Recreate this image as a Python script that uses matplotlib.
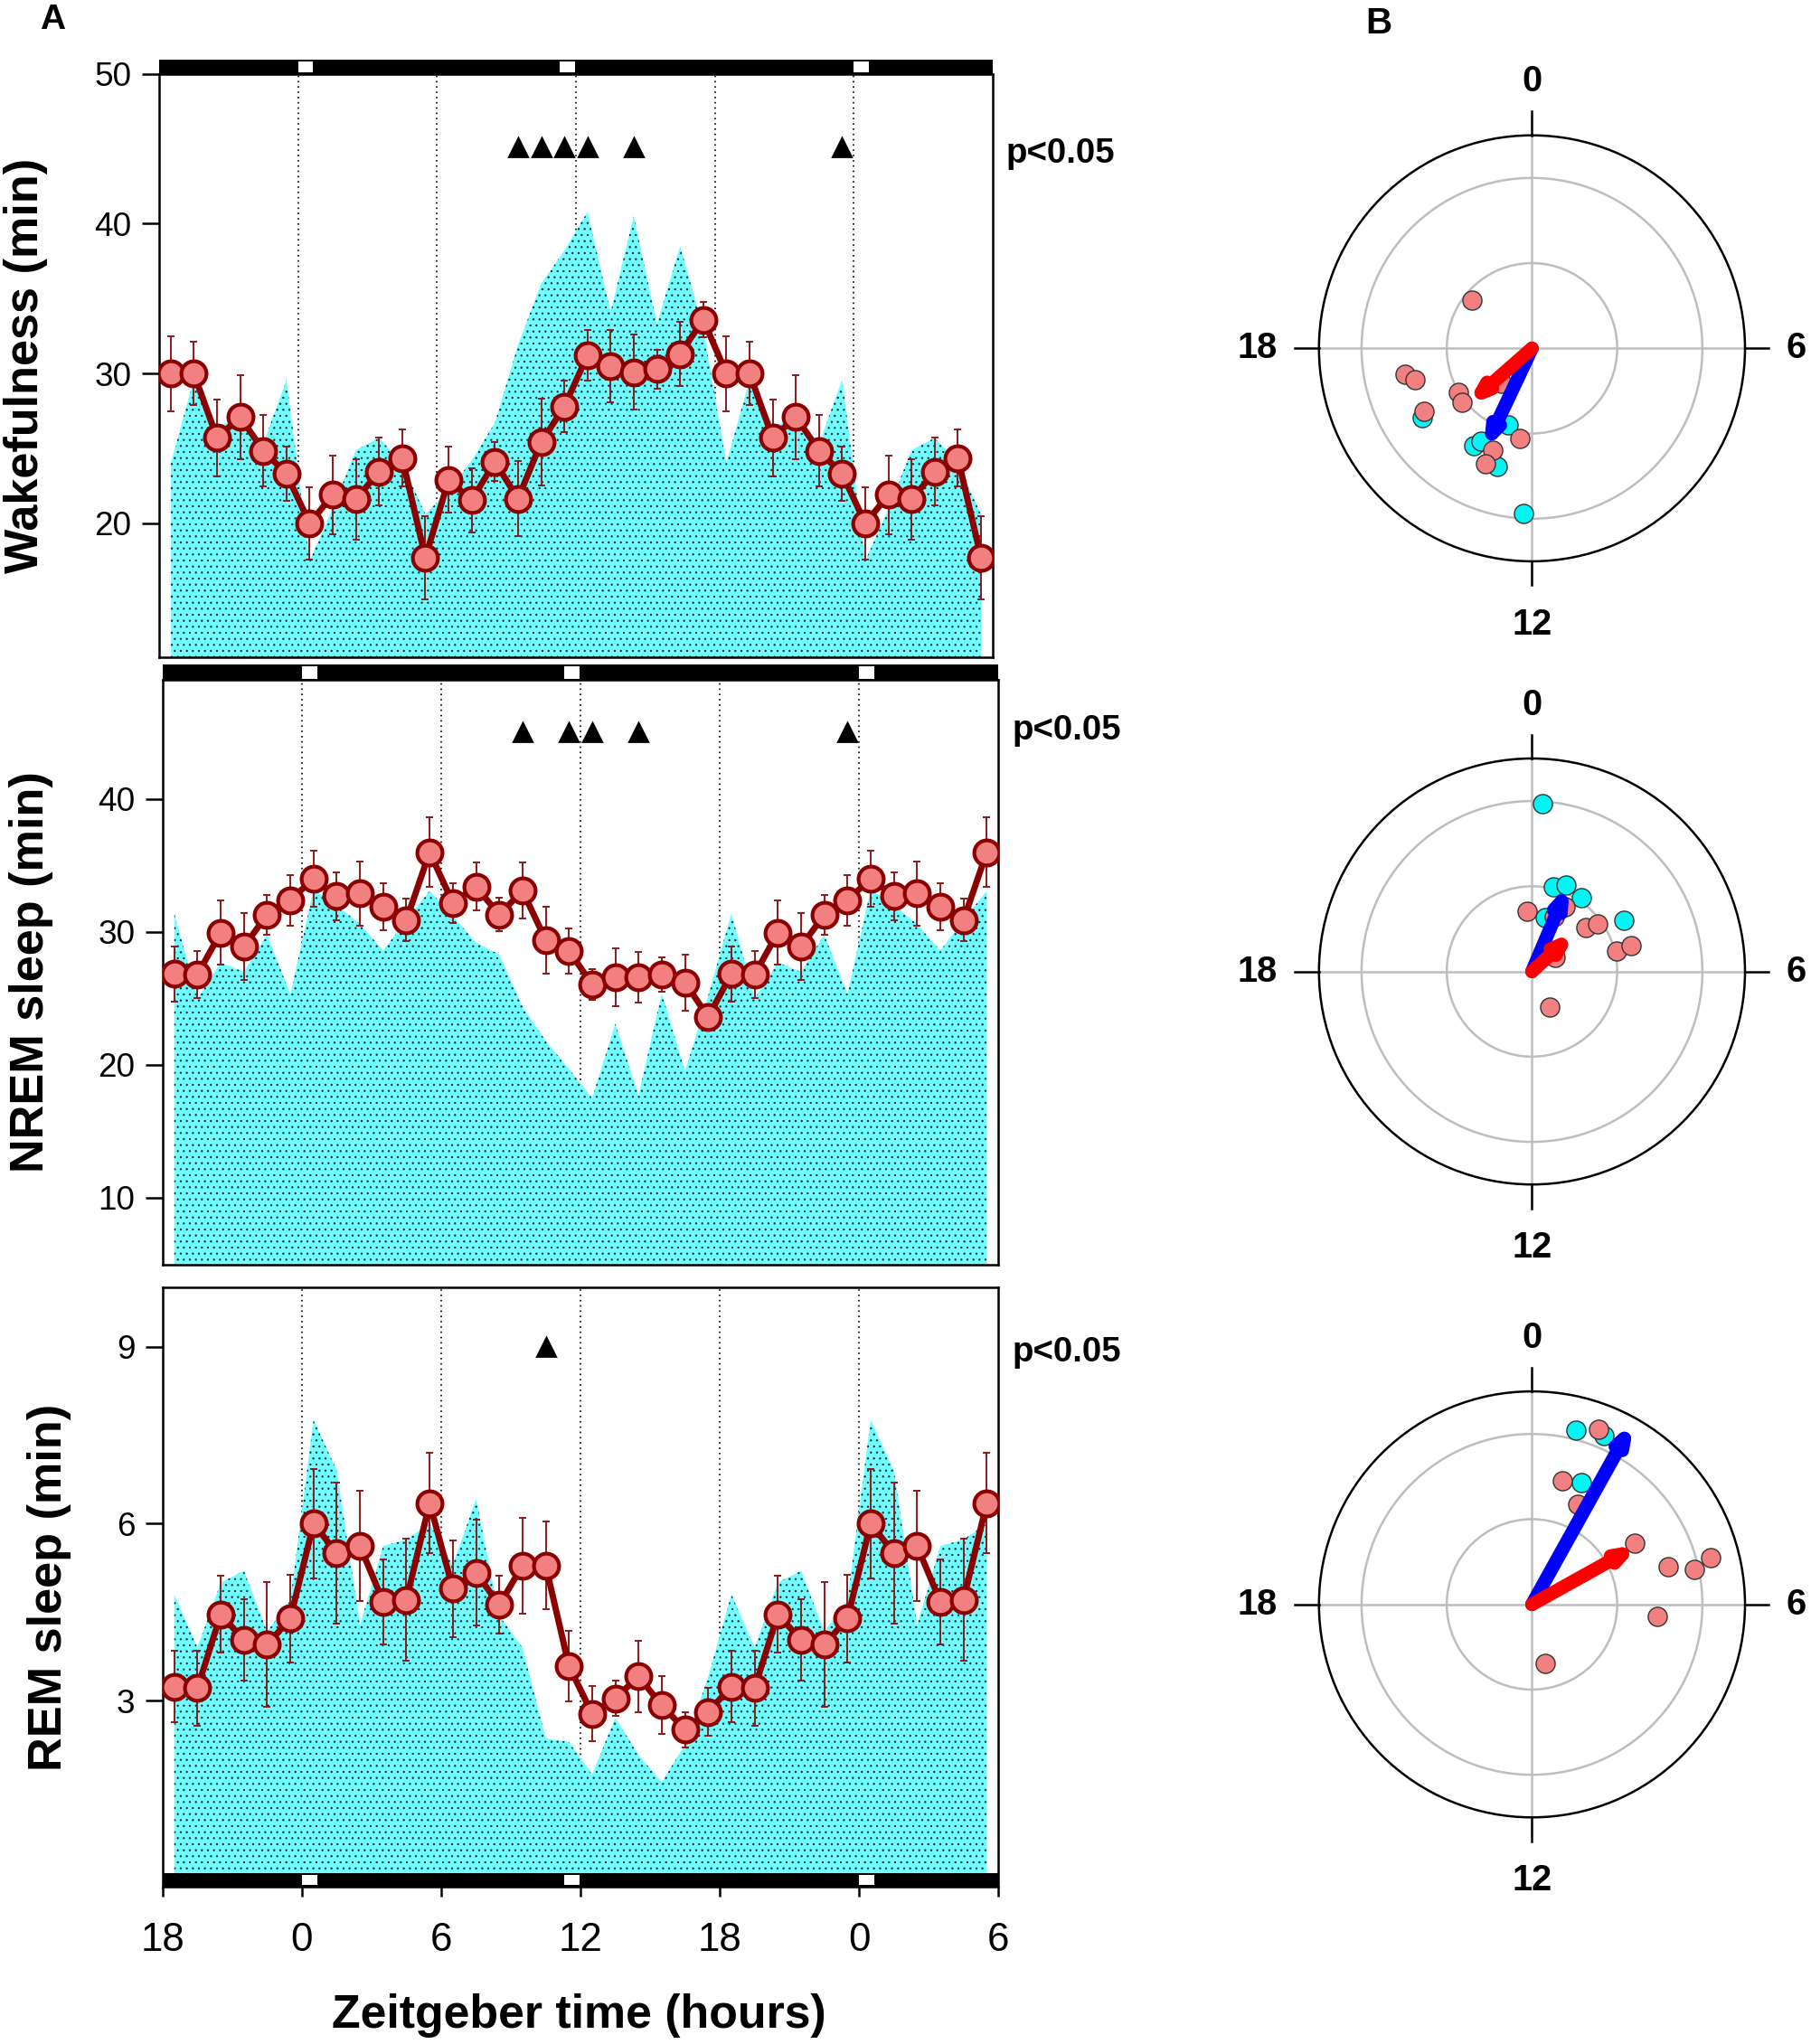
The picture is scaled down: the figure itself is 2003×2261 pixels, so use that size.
import numpy as np
import matplotlib
matplotlib.use("Agg")
import matplotlib.pyplot as plt
from matplotlib.patches import Rectangle, FancyArrowPatch
from matplotlib.transforms import blended_transform_factory

plt.rcParams["font.family"] = ["Liberation Sans", "DejaVu Sans"]
plt.rcParams["hatch.linewidth"] = 0.35

W, H = 2003, 2261

# --- hourly bins ZT 0.5 ... 23.5 (plotted double: ZT 18 -> ZT 6 of day 3) ---
wake_mean = [20.0, 21.9, 21.6, 23.45, 24.35, 17.7, 22.9, 21.55, 24.1, 21.65, 25.4, 27.8,
             31.2, 30.5, 30.1, 30.3, 31.3, 33.6, 30.0, 30.0, 25.7, 27.1, 24.85, 23.3]
wake_sem = [2.4, 2.6, 2.7, 2.25, 1.9, 2.8, 2.2, 2.15, 1.3, 2.5, 2.9, 1.7,
            1.7, 2.4, 2.5, 1.3, 2.15, 1.2, 2.5, 2.1, 2.55, 2.8, 2.4, 1.8]
wake_ctrl = [17.5, 21.0, 24.9, 25.7, 24.0, 20.6, 22.2, 24.2, 26.7, 31.9, 36.0, 38.2,
             40.8, 34.1, 40.5, 33.3, 38.5, 33.0, 24.0, 29.6, 26.5, 27.0, 25.3, 29.6]
wake_sig = [9.5, 10.5, 11.5, 12.5, 14.5, 23.5]

nrem_mean = [34.0, 32.7, 32.9, 31.9, 30.9, 36.0, 32.2, 33.4, 31.3, 33.1, 29.4, 28.6,
             26.05, 26.6, 26.6, 26.8, 26.2, 23.6, 26.84, 26.8, 29.95, 28.9, 31.3, 32.4]
nrem_sem = [2.1, 1.8, 2.4, 1.75, 1.6, 2.6, 1.5, 1.8, 1.25, 2.1, 2.5, 1.7,
            1.15, 2.2, 1.9, 1.3, 2.1, 0.95, 2.1, 1.8, 2.4, 2.5, 1.5, 1.9]
nrem_ctrl = [33.2, 32.0, 30.6, 28.6, 30.9, 33.1, 31.2, 29.2, 28.3, 24.4, 21.8, 19.7,
             17.5, 23.1, 17.7, 25.4, 19.5, 25.2, 31.4, 25.0, 27.7, 27.0, 29.8, 25.3]
nrem_sig = [9.5, 11.5, 12.5, 14.5, 23.5]

rem_mean = [6.0, 5.5, 5.62, 4.68, 4.71, 6.35, 4.9, 5.17, 4.62, 5.29, 5.29, 3.59,
            2.78, 3.04, 3.41, 2.92, 2.51, 2.81, 3.24, 3.21, 4.46, 4.03, 3.95, 4.39]
rem_sem = [0.93, 1.2, 0.93, 0.72, 1.03, 0.85, 0.82, 0.89, 0.49, 0.81, 0.74, 0.6,
           0.47, 0.3, 0.61, 0.49, 0.3, 0.4, 0.6, 0.63, 0.65, 0.69, 1.06, 0.74]
rem_ctrl = [7.76, 6.9, 4.28, 5.62, 5.73, 6.0, 5.3, 6.42, 4.44, 3.9, 2.36, 2.3,
            1.75, 2.71, 2.08, 1.62, 2.25, 3.4, 4.8, 3.9, 5.0, 5.2, 4.17, 4.7]
rem_sig = [10.5]

# light marks in the dark bar (hours after ZT 18 of the first plotted day)
light_marks = [(6.0, 6.65), (17.3, 17.95), (30.0, 30.65)]
xtick_labels = ["18", "0", "6", "12", "18", "0", "6"]

# --- phase (ZT h) and length of individual vectors and group means ---
wake_red_zt = [20.6, 17.24, 17.0, 15.97, 15.95, 15.5, 14.7, 12.53, 13.4, 13.45]
wake_red_r = [0.452, 0.760, 0.709, 0.734, 0.503, 0.517, 0.27, 0.533, 0.638, 0.732]
wake_cyan_zt = [15.84, 13.16, 14.06, 13.9, 13.1, 12.19]
wake_cyan_r = [0.763, 0.471, 0.666, 0.623, 0.722, 0.973]
wake_vec = {"red": (15.25, 0.515), "blue": (13.68, 0.672)}

nrem_red_zt = [23.7, 1.48, 3.41, 3.59, 5.1, 5.03, 3.88, 10.26, 1.78]
nrem_red_r = [0.355, 0.349, 0.407, 0.477, 0.512, 0.603, 0.159, 0.232, 0.428]
nrem_cyan_zt = [0.24, 0.94, 1.43, 2.23, 0.94, 4.06]
nrem_cyan_r = [0.986, 0.51, 0.544, 0.522, 0.325, 0.614]
nrem_vec = {"red": (3.17, 0.353), "blue": (1.53, 0.566)}

rem_red_zt = [1.39, 0.93, 1.63, 4.96, 5.18, 5.03, 6.37, 11.14, 3.94]
rem_red_r = [1.10, 0.747, 0.644, 0.828, 0.974, 1.082, 0.74, 0.356, 0.70]
rem_cyan_zt = [0.94, 1.53, 1.46]
rem_cyan_r = [1.055, 1.077, 0.773]
rem_vec = {"red": (4.06, 0.726), "blue": (1.94, 1.233)}

SALMON = "#F28080"
DARKRED = "#8B0000"
CYAN_FILL = "#70FFFF"
DOTS = "#0B2540"


def px_rect(l, t, r, b):
    return [l / W, 1 - b / H, (r - l) / W, (b - t) / H]


def zt_rad(zt):
    return np.asarray(zt) / 24.0 * 2 * np.pi


def line_panel(ax, mean, sem, ctrl, sig, ylim, yticks, sig_y, bar_y, bar_h, bottom):
    x = np.arange(0.5, 36, 1.0)
    idx = ((x + 18) % 24 - 0.5).astype(int)
    m = np.asarray(mean)[idx]
    e = np.asarray(sem)[idx]
    c = np.asarray(ctrl)[idx]

    for xv in (6, 12, 18, 24, 30):
        ax.axvline(xv, color="k", lw=0.6, ls=(0, (1, 2.5)), zorder=0.5)
    ax.fill_between(x, ylim[0], c, facecolor=CYAN_FILL, edgecolor=DOTS,
                    hatch=".....", linewidth=0, zorder=1)
    ax.errorbar(x, m, yerr=e, fmt="none", ecolor="#8B1A1A", elinewidth=0.7,
                capsize=1.4, capthick=0.7, zorder=2)
    ax.plot(x, m, "-o", color=DARKRED, lw=2.5, ms=10, mfc=SALMON, mec=DARKRED,
            mew=1.5, zorder=3)
    ax.plot(np.asarray(sig) + 6, [sig_y] * len(sig), "^", color="k", ms=7,
            clip_on=False, zorder=4)

    trans = blended_transform_factory(ax.transData, ax.transAxes)
    ax.add_patch(Rectangle((0, bar_y), 36, bar_h, transform=trans, facecolor="k",
                           edgecolor="none", clip_on=False, zorder=5))
    for a, b in light_marks:
        ax.add_patch(Rectangle((a, bar_y + 0.1 * bar_h), b - a, 0.8 * bar_h,
                               transform=trans, facecolor="white", edgecolor="none",
                               clip_on=False, zorder=6))

    ax.set_xlim(0, 36)
    ax.set_ylim(*ylim)
    ax.set_yticks(yticks)
    ax.tick_params(axis="y", direction="out", length=7, width=0.9,
                   labelsize=13.3, pad=4)
    if bottom:
        ax.set_xticks(np.arange(0, 37, 6))
        ax.set_xticklabels(xtick_labels)
        ax.tick_params(axis="x", direction="out", length=4, width=0.9,
                       labelsize=15.8, pad=10)
    else:
        ax.set_xticks([])
    for sp in ax.spines.values():
        sp.set_linewidth(0.9)


def polar_panel(pax, red_zt, red_r, cyan_zt, cyan_r, vec):
    pax.set_theta_zero_location("N")
    pax.set_theta_direction(-1)
    pax.set_ylim(0, 1.25)
    pax.set_yticks([0.5, 1.0])
    pax.set_yticklabels([])
    pax.set_xticks(zt_rad([0, 6, 12, 18]))
    pax.set_xticklabels([])
    pax.grid(True, color="#BEBEBE", lw=0.9)
    pax.spines["polar"].set_linewidth(0.9)

    for zt, rl, lab in zip([0, 6, 12, 18], [1.565, 1.55, 1.62, 1.61],
                           ["0", "6", "12", "18"]):
        th = zt_rad(zt)
        pax.plot([th, th], [1.25, 1.39], color="k", lw=0.9, clip_on=False)
        pax.text(th, rl, lab, ha="center", va="center", fontsize=14.3,
                 fontweight="bold")

    pax.plot(zt_rad(cyan_zt), cyan_r, "o", ls="none", ms=7.6, mfc="#00F5F5",
             mec="#333333", mew=0.5, clip_on=False, zorder=3)
    pax.plot(zt_rad(red_zt), red_r, "o", ls="none", ms=7.6, mfc=SALMON,
             mec="#333333", mew=0.5, clip_on=False, zorder=3)
    for key, col in (("blue", "#0000FF"), ("red", "#FF0000")):
        zt, rr = vec[key]
        th = float(zt_rad(zt))
        arr = FancyArrowPatch((th, 0), (th, rr), transform=pax.transData,
                              arrowstyle="-|>,head_length=4.5,head_width=1.6",
                              mutation_scale=1, lw=5.4, color=col,
                              shrinkA=0, shrinkB=0, capstyle="round",
                              joinstyle="round", zorder=4)
        pax.add_patch(arr)


fig = plt.figure(figsize=(W / 200, H / 200), dpi=200)

ax1 = fig.add_axes(px_rect(176.0, 81.7, 1097.9, 726.9))
line_panel(ax1, wake_mean, wake_sem, wake_ctrl, wake_sig, (11.07, 50),
           [20, 30, 40, 50], 45.1, 1.0, 0.0242, False)
ax2 = fig.add_axes(px_rect(179.9, 752.3, 1104.2, 1398.5))
line_panel(ax2, nrem_mean, nrem_sem, nrem_ctrl, nrem_sig, (5, 48.95),
           [10, 20, 30, 40], 45.0, 1.0, 0.026, False)
ax3 = fig.add_axes(px_rect(179.9, 1424.3, 1104.2, 2086.8))
line_panel(ax3, rem_mean, rem_sem, rem_ctrl, rem_sig, (-0.15, 10.0),
           [3, 6, 9], 9.0, 0.0, 0.0218, True)

fig.text(28.9 / W, 1 - 404.3 / H, "Wakefulness (min)", rotation=90,
         ha="center", va="center", fontsize=18.8, fontweight="bold")
fig.text(34.7 / W, 1 - 1075.4 / H, "NREM sleep (min)", rotation=90,
         ha="center", va="center", fontsize=18.8, fontweight="bold")
fig.text(54.9 / W, 1 - 1755.5 / H, "REM sleep (min)", rotation=90,
         ha="center", va="center", fontsize=18.8, fontweight="bold")
fig.text(640.2 / W, 1 - 2229.8 / H, "Zeitgeber time (hours)", ha="center",
         va="center", fontsize=18.7, fontweight="bold")
for xl, yc in ((1112.8, 170.5), (1120.0, 807.8), (1120.0, 1495.7)):
    fig.text(xl / W, 1 - yc / H, "p<0.05", ha="left", va="center",
             fontsize=13.8, fontweight="bold")
fig.text(57.8 / W, 1 - 21.7 / H, "A", ha="center", va="center", fontsize=14,
         fontweight="bold")
fig.text(1524.6 / W, 1 - 26.0 / H, "B", ha="center", va="center",
         fontsize=14.5, fontweight="bold")

R = 235.6
for cy, args in ((385.3, (wake_red_zt, wake_red_r, wake_cyan_zt, wake_cyan_r, wake_vec)),
                 (1074.6, (nrem_red_zt, nrem_red_r, nrem_cyan_zt, nrem_cyan_r, nrem_vec)),
                 (1774.7, (rem_red_zt, rem_red_r, rem_cyan_zt, rem_cyan_r, rem_vec))):
    pax = fig.add_axes(px_rect(1694.4 - R, cy - R, 1694.4 + R, cy + R),
                       projection="polar")
    polar_panel(pax, *args)

fig.savefig("out.png", dpi=200)
